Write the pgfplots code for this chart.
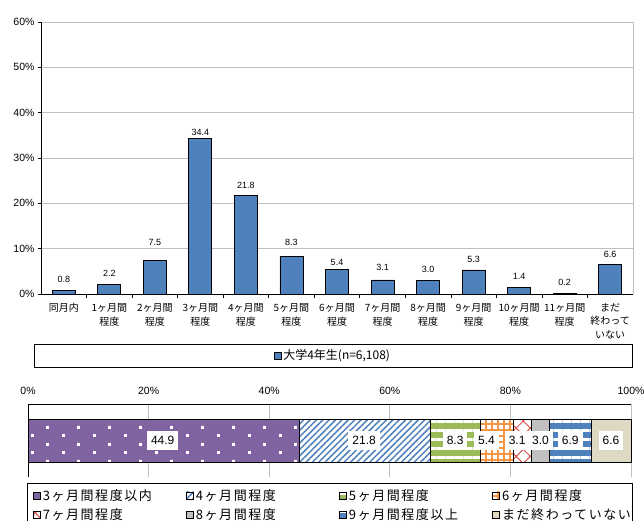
\documentclass[border=0pt]{standalone}
\usepackage{pgfplots}
\pgfplotsset{compat=1.18}
\usepackage{pgfplotstable}
\usepackage{fontspec}
\setmainfont{Liberation Sans}
\newfontfamily\jp{Noto Sans CJK JP}
\newfontfamily\jpw[LetterSpace=12]{Noto Sans CJK JP}
\usetikzlibrary{patterns.meta}
\definecolor{cBlue}{HTML}{4F81BD}
\definecolor{cPurple}{HTML}{8064A2}
\definecolor{cGreen}{HTML}{9BBB59}
\definecolor{cOrange}{HTML}{F79646}
\definecolor{cRed}{HTML}{D9534F}
\definecolor{cGray}{HTML}{C0C0C0}
\definecolor{cBeige}{HTML}{DDD9C3}
\definecolor{cGrid}{HTML}{BFBFBF}

\tikzdeclarepattern{
  name=wdots,
  type=uncolored,
  bounding box={(0pt,0pt) and (31pt,16.6pt)},
  tile size={(31pt,16.6pt)},
  code={
    \fill (0pt,0pt) rectangle (3pt,3pt);
    \fill (15.5pt,8.3pt) rectangle (18.5pt,11.3pt);
  }
}

\pgfplotstableread{
x y off
0 0.8 11
1 2.2 11
2 7.5 18
3 34.4 6
4 21.8 9.5
5 8.3 14
6 5.4 7
7 3.1 13
8 3.0 11.4
9 5.3 10.7
10 1.4 11
11 0.2 10.7
12 6.6 10
}\topdata

\tikzset{
  s1/.style={fill=cPurple, draw=black, postaction={pattern=wdots, pattern color=white}},
  s2/.style={fill=white, draw=black, postaction={pattern={Lines[angle=45,distance=4.5pt,line width=1.5pt]}, pattern color=cBlue}},
  s3/.style={fill=cGreen, draw=black, postaction={pattern={Lines[angle=0,distance=9pt,line width=3pt]}, pattern color=white}},
  s4/.style={fill=white, draw=black, postaction={pattern={Hatch[angle=0,distance=6pt,line width=1.5pt]}, pattern color=cOrange}},
  s5/.style={fill=white, draw=black, postaction={pattern={Hatch[angle=45,distance=10pt,line width=1pt]}, pattern color=cRed}},
  s6/.style={fill=cGray, draw=black},
  s7/.style={fill=cBlue, draw=black, postaction={pattern={Lines[angle=0,distance=9pt,line width=3pt]}, pattern color=white}},
  s8/.style={fill=cBeige, draw=black},
}

\begin{document}
\begin{tikzpicture}[x=1pt,y=1pt]
\useasboundingbox (0,0) rectangle (644,520);

\begin{axis}[
  at={(41pt,226pt)}, anchor=south west,
  scale only axis, width=592pt, height=272pt,
  xmin=-0.5, xmax=12.5, ymin=0, ymax=60,
  ybar, bar width=23pt,
  axis x line*=bottom, axis y line*=left,
  axis line style={-, black, line width=0.8pt},
  ytick={0,10,...,60},
  yticklabel={\pgfmathprintnumber{\tick}\%},
  ymajorgrids, grid style={cGrid, line width=0.8pt},
  tick align=outside, major tick length=3pt, minor tick length=4pt,
  tick style={black, line width=0.6pt},
  xtick={0,...,12},
  xticklabels={同月内, {1ヶ月間\\程度}, {2ヶ月間\\程度}, {3ヶ月間\\程度}, {4ヶ月間\\程度}, {5ヶ月間\\程度}, {6ヶ月間\\程度}, {7ヶ月間\\程度}, {8ヶ月間\\程度}, {9ヶ月間\\程度}, {10ヶ月間\\程度}, {11ヶ月間\\程度}, {まだ\\終わって\\いない}},
  minor x tick num=1,
  major x tick style={draw=none},
  xticklabel style={font=\jp\fontsize{10}{13.5}\selectfont, align=center, yshift=-3pt},
  yticklabel style={font=\fontsize{10.5}{12}\selectfont},
  /pgf/number format/assume math mode=true,
  nodes near coords={\pgfmathprintnumber[fixed,fixed zerofill,precision=1]{\pgfplotspointmeta}},
  visualization depends on={\thisrow{off} \as \off},
  every node near coord/.append style={anchor=center, yshift=\off pt, font=\fontsize{9}{9}\selectfont, text=black},
  legend style={at={(0.493,-0.226)}, anchor=center, draw=none, fill=none, font=\jp\fontsize{12}{14}\selectfont},
  legend image code/.code={\draw[#1, line width=0.6pt] (0pt,-3.5pt) rectangle (7pt,3.5pt);},
  clip=false,
]
\addplot[fill=cBlue, draw=black, line width=0.8pt] table[x=x,y=y] {\topdata};
\addlegendentry{大学4年生(n=6,108)}
\draw[cGrid, line width=0.8pt] (rel axis cs:1,0) -- (rel axis cs:1,1);
\end{axis}
\draw[black, line width=0.8pt] (34,153) rectangle (632,176);

\begin{axis}[
  at={(28pt,43pt)}, anchor=south west,
  scale only axis, width=603pt, height=73pt,
  xbar stacked, bar width=43pt,
  xmin=0, xmax=100, ymin=0, ymax=2,
  axis x line*=top, axis y line*=left,
  axis line style={-, black, line width=0.8pt},
  xtick={0,20,...,100},
  xticklabel={\pgfmathprintnumber{\tick}\%},
  xmajorgrids, grid style={cGrid, line width=0.8pt},
  ytick=\empty,
  major tick length=0pt,
  xticklabel style={font=\fontsize{10.5}{12}\selectfont, yshift=6pt},
  /pgf/number format/assume math mode=true,
  point meta=explicit,
  nodes near coords={\pgfmathprintnumber[fixed,fixed zerofill,precision=1]{\pgfplotspointmeta}},
  visualization depends on={\thisrow{v} \as \rawx},
  every node near coord/.append style={anchor=center, xshift={-0.015pt*\rawx}, fill=white, text=black, font=\fontsize{12}{12}\selectfont, inner xsep=4pt, minimum height=19pt},
  legend columns=4,
  legend style={at={(0.0033,-0.11)}, anchor=north west, draw=none, fill=none, font=\jpw\fontsize{13}{15}\selectfont, /tikz/every even column/.append style={column sep=0pt}, row sep=3pt},
  legend image code/.code={\draw[#1, line width=0.6pt] (0pt,-3.5pt) rectangle (7pt,3.5pt);},
  clip=false,
]
\addplot[s1] table[x=v, y=y, meta=v, row sep=\\] {v y\\ 44.9 1\\};
\addplot[s2] table[x=v, y=y, meta=v, row sep=\\] {v y\\ 21.8 1\\};
\addplot[s3] table[x=v, y=y, meta=v, row sep=\\] {v y\\ 8.3 1\\};
\addplot[s4, every node near coord/.append style={xshift=-10pt}] table[x=v, y=y, meta=v, row sep=\\] {v y\\ 5.4 1\\};
\addplot[s5, every node near coord/.append style={xshift=-5pt}] table[x=v, y=y, meta=v, row sep=\\] {v y\\ 3.1 1\\};
\addplot[s6] table[x=v, y=y, meta=v, row sep=\\] {v y\\ 3.0 1\\};
\addplot[s7] table[x=v, y=y, meta=v, row sep=\\] {v y\\ 6.9 1\\};
\addplot[s8] table[x=v, y=y, meta=v, row sep=\\] {v y\\ 6.6 1\\};
\legend{\makebox[141.5pt][l]{3ヶ月間程度以内}, \makebox[141.5pt][l]{4ヶ月間程度}, \makebox[141.5pt][l]{5ヶ月間程度}, \makebox[141.5pt][l]{6ヶ月間程度}, \makebox[141.5pt][l]{7ヶ月間程度}, \makebox[141.5pt][l]{8ヶ月間程度}, \makebox[141.5pt][l]{9ヶ月間程度以上}, \makebox[141.5pt][l]{まだ終わっていない}}
\end{axis}
\draw[black, line width=0.8pt] (27,37) rectangle (632,-10);
\end{tikzpicture}
\end{document}
